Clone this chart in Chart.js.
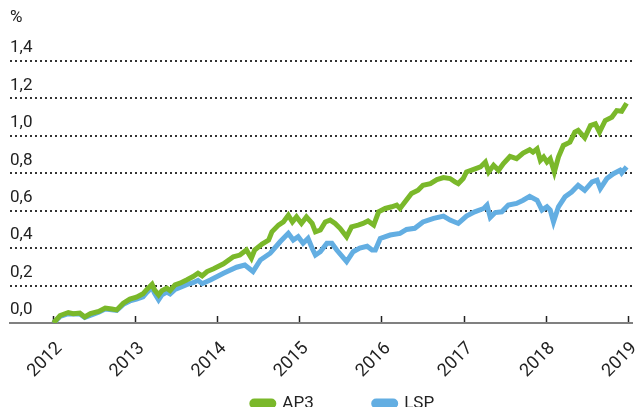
<!DOCTYPE html>
<html>
<head>
<meta charset="utf-8">
<script src="https://cdn.jsdelivr.net/npm/chart.js@4"></script>
<style>
html, body { margin: 0; padding: 0; overflow: hidden; background: #fff; }
#wrap { width: 637px; height: 472px; }
</style>
</head>
<body>
<div id="wrap"><canvas id="chart"></canvas></div>
<script>
const yearTicks = [2012, 2013, 2014, 2015, 2016, 2017, 2018, 2019];

const apYears = [
  2012.00, 2012.08, 2012.18, 2012.24, 2012.32, 2012.38, 2012.45, 2012.55, 2012.63, 2012.71,
  2012.77, 2012.85, 2012.93, 2013.01, 2013.09, 2013.14, 2013.20, 2013.23, 2013.28, 2013.32,
  2013.38, 2013.42, 2013.48, 2013.54, 2013.62, 2013.70, 2013.76, 2013.81, 2013.87, 2013.95,
  2014.07, 2014.19, 2014.27, 2014.35, 2014.41, 2014.45, 2014.54, 2014.62, 2014.66, 2014.74,
  2014.80, 2014.86, 2014.91, 2014.96, 2015.02, 2015.08, 2015.15, 2015.19, 2015.25, 2015.31,
  2015.37, 2015.43, 2015.49, 2015.57, 2015.63, 2015.71, 2015.77, 2015.83, 2015.90, 2015.96,
  2016.04, 2016.12, 2016.18, 2016.22, 2016.28, 2016.36, 2016.44, 2016.50, 2016.59, 2016.67,
  2016.75, 2016.83, 2016.89, 2016.93, 2016.99, 2017.03, 2017.11, 2017.20, 2017.26, 2017.30,
  2017.36, 2017.42, 2017.48, 2017.56, 2017.64, 2017.72, 2017.80, 2017.84, 2017.89, 2017.93,
  2017.97, 2018.01, 2018.05, 2018.10, 2018.15, 2018.21, 2018.29, 2018.35, 2018.39, 2018.47,
  2018.54, 2018.60, 2018.65, 2018.72, 2018.80, 2018.86, 2018.92, 2018.98
];
const apValues = [
  0, 0.04, 0.056, 0.05, 0.053, 0.032, 0.05, 0.062, 0.08, 0.075,
  0.07, 0.106, 0.128, 0.138, 0.156, 0.181, 0.207, 0.177, 0.15, 0.173,
  0.186, 0.173, 0.204, 0.213, 0.23, 0.248, 0.266, 0.252, 0.275, 0.29,
  0.316, 0.354, 0.363, 0.39, 0.346, 0.39, 0.422, 0.443, 0.487, 0.523,
  0.54, 0.576, 0.54, 0.567, 0.532, 0.567, 0.532, 0.487, 0.497, 0.54,
  0.55, 0.532, 0.506, 0.461, 0.514, 0.523, 0.532, 0.545, 0.523, 0.594,
  0.612, 0.621, 0.63, 0.612, 0.647, 0.692, 0.709, 0.736, 0.745, 0.766,
  0.777, 0.772, 0.754, 0.745, 0.772, 0.807, 0.82, 0.834, 0.86, 0.807,
  0.843, 0.816, 0.852, 0.89, 0.878, 0.908, 0.926, 0.913, 0.931, 0.869,
  0.887, 0.86, 0.878, 0.807, 0.887, 0.949, 0.966, 1.02, 1.029, 0.99,
  1.055, 1.064, 1.02, 1.082, 1.099, 1.135, 1.131, 1.174
];

const lspYears = [
  2012.00, 2012.08, 2012.18, 2012.32, 2012.38, 2012.55, 2012.63, 2012.77, 2012.85, 2012.93,
  2013.01, 2013.09, 2013.14, 2013.20, 2013.23, 2013.28, 2013.32, 2013.38, 2013.42, 2013.48,
  2013.54, 2013.62, 2013.70, 2013.76, 2013.81, 2013.91, 2014.07, 2014.23, 2014.33, 2014.43,
  2014.52, 2014.64, 2014.76, 2014.86, 2014.92, 2014.98, 2015.04, 2015.10, 2015.15, 2015.19,
  2015.25, 2015.33, 2015.39, 2015.45, 2015.57, 2015.65, 2015.73, 2015.82, 2015.88, 2015.92,
  2015.98, 2016.10, 2016.22, 2016.30, 2016.40, 2016.50, 2016.63, 2016.75, 2016.83, 2016.93,
  2017.03, 2017.13, 2017.24, 2017.28, 2017.32, 2017.38, 2017.46, 2017.54, 2017.64, 2017.72,
  2017.80, 2017.89, 2017.95, 2018.01, 2018.05, 2018.09, 2018.15, 2018.23, 2018.31, 2018.39,
  2018.47, 2018.56, 2018.62, 2018.66, 2018.74, 2018.82, 2018.90, 2018.92, 2018.98
];
const lspValues = [
  0, 0.035, 0.05, 0.048, 0.03, 0.058, 0.075, 0.068, 0.1, 0.118,
  0.128, 0.14, 0.165, 0.19, 0.16, 0.124, 0.15, 0.165, 0.155, 0.18,
  0.19, 0.205, 0.215, 0.228, 0.21, 0.23, 0.266, 0.298, 0.31, 0.275,
  0.337, 0.373, 0.434, 0.479, 0.443, 0.461, 0.426, 0.452, 0.399, 0.363,
  0.381, 0.426, 0.426, 0.39, 0.328, 0.381, 0.4, 0.41, 0.39, 0.39,
  0.452, 0.47, 0.479, 0.5, 0.506, 0.54, 0.559, 0.571, 0.55, 0.532,
  0.571, 0.594, 0.612, 0.63, 0.564, 0.59, 0.594, 0.63, 0.639, 0.656,
  0.677, 0.656, 0.603, 0.621, 0.603, 0.54, 0.621, 0.674, 0.7, 0.736,
  0.709, 0.754, 0.763, 0.718, 0.772, 0.798, 0.816, 0.802, 0.834
];

const green = '#7ab82a';
const blue = '#63aee2';

Chart.defaults.font.family = 'Roboto';
Chart.defaults.color = '#222';

const toPoints = (xs, ys) => xs.map((x, i) => ({ x: x, y: ys[i] }));

// legend sits centred under the year range and tucked up under the year labels
const legendShift = {
  id: 'legendShift',
  afterLayout(chart) {
    const lg = chart.legend;
    const dy = lg.top - (chart.chartArea.bottom + 12);
    lg.top -= dy;
    lg.bottom -= dy;
    lg.left += 22;
    lg.right += 22;
  }
};

new Chart(document.getElementById('chart'), {
  type: 'line',
  data: {
    datasets: [
      {
        label: 'AP3',
        data: toPoints(apYears, apValues),
        borderColor: green,
        backgroundColor: green,
        borderWidth: 5,
        pointRadius: 0,
        tension: 0
      },
      {
        label: 'LSP',
        data: toPoints(lspYears, lspValues),
        borderColor: blue,
        backgroundColor: blue,
        borderWidth: 5,
        pointRadius: 0,
        tension: 0
      }
    ]
  },
  plugins: [legendShift],
  options: {
    responsive: true,
    maintainAspectRatio: false,
    animation: false,
    layout: { padding: { left: 10, right: 5, top: 0, bottom: 0 } },
    plugins: {
      title: {
        display: true,
        text: '%',
        align: 'start',
        font: { size: 17, weight: 'normal' },
        padding: { top: 8, bottom: 32.6 }
      },
      legend: {
        position: 'bottom',
        labels: {
          boxWidth: 22,
          boxHeight: 5,
          useBorderRadius: true,
          borderRadius: 2.5,
          padding: 60,
          font: { size: 17 }
        }
      },
      tooltip: { enabled: false }
    },
    scales: {
      x: {
        type: 'linear',
        min: 2011.47,
        max: 2019.046,
        afterBuildTicks: scale => { scale.ticks = yearTicks.map(v => ({ value: v })); },
        afterFit: scale => {
          scale.paddingLeft = 0;
          scale.paddingRight = 0;
          scale.height = 62;
        },
        ticks: {
          autoSkip: false,
          minRotation: 45,
          maxRotation: 45,
          padding: 22,
          labelOffset: 6,
          font: { size: 18 },
          callback: v => String(v)
        },
        grid: { drawOnChartArea: false, drawTicks: true, tickLength: -7, tickColor: '#222', tickWidth: 1.5 },
        border: { display: true, color: '#808080', width: 2 }
      },
      y: {
        min: 0,
        max: 1.4,
        ticks: {
          stepSize: 0.2,
          mirror: true,
          padding: 0,
          labelOffset: -13,
          font: { size: 17 },
          callback: v => v.toFixed(1).replace('.', ',')
        },
        grid: {
          color: '#333',
          lineWidth: 2,
          drawTicks: false
        },
        border: { display: false, dash: [2, 3] }
      }
    }
  }
});
</script>
</body>
</html>
